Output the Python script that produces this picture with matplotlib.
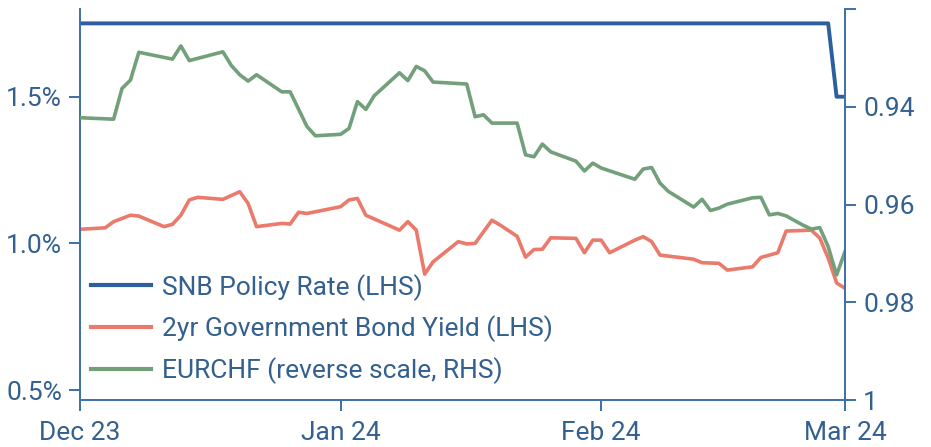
import matplotlib
matplotlib.use("Agg")
import matplotlib.pyplot as plt
import pandas as pd

# ---------------- data ----------------
snb_dates = ["2023-12-01", "2024-02-28", "2024-02-29", "2024-03-01"]
snb_vals = [1.75, 1.75, 1.50, 1.50]

yield_dates = ["2023-12-01", "2023-12-04", "2023-12-05", "2023-12-07", "2023-12-08",
               "2023-12-11", "2023-12-12", "2023-12-13", "2023-12-14", "2023-12-15",
               "2023-12-18", "2023-12-20", "2023-12-21", "2023-12-22", "2023-12-25",
               "2023-12-26", "2023-12-27", "2023-12-28", "2024-01-01", "2024-01-02",
               "2024-01-03", "2024-01-04", "2024-01-08", "2024-01-09", "2024-01-10",
               "2024-01-11", "2024-01-12", "2024-01-15", "2024-01-16", "2024-01-17",
               "2024-01-19", "2024-01-20", "2024-01-22", "2024-01-23", "2024-01-24",
               "2024-01-25", "2024-01-26", "2024-01-29", "2024-01-30", "2024-01-31",
               "2024-02-01", "2024-02-02", "2024-02-05", "2024-02-06", "2024-02-07",
               "2024-02-08", "2024-02-12", "2024-02-13", "2024-02-15", "2024-02-16",
               "2024-02-19", "2024-02-20", "2024-02-22", "2024-02-23", "2024-02-26",
               "2024-02-27", "2024-02-28", "2024-02-29", "2024-03-01"]
yield_vals = [1.048, 1.053, 1.074, 1.096, 1.093,
              1.057, 1.065, 1.096, 1.148, 1.157,
              1.150, 1.176, 1.136, 1.057, 1.068,
              1.066, 1.106, 1.102, 1.125, 1.148,
              1.153, 1.096, 1.045, 1.074, 1.045,
              0.895, 0.937, 1.006, 0.998, 1.000,
              1.079, 1.062, 1.024, 0.953, 0.979,
              0.980, 1.019, 1.017, 0.968, 1.011,
              1.011, 0.968, 1.011, 1.023, 1.006,
              0.960, 0.946, 0.934, 0.932, 0.909,
              0.920, 0.952, 0.968, 1.042, 1.045,
              1.018, 0.950, 0.865, 0.847]

eurchf_dates = ["2023-12-01", "2023-12-05", "2023-12-06", "2023-12-07", "2023-12-08",
                "2023-12-12", "2023-12-13", "2023-12-14", "2023-12-18", "2023-12-19",
                "2023-12-20", "2023-12-21", "2023-12-22", "2023-12-25", "2023-12-26",
                "2023-12-28", "2023-12-29", "2024-01-01", "2024-01-02", "2024-01-03",
                "2024-01-04", "2024-01-05", "2024-01-08", "2024-01-09", "2024-01-10",
                "2024-01-11", "2024-01-12", "2024-01-16", "2024-01-17", "2024-01-18",
                "2024-01-19", "2024-01-22", "2024-01-23", "2024-01-24", "2024-01-25",
                "2024-01-26", "2024-01-29", "2024-01-30", "2024-01-31", "2024-02-01",
                "2024-02-05", "2024-02-06", "2024-02-07", "2024-02-08", "2024-02-09",
                "2024-02-12", "2024-02-13", "2024-02-14", "2024-02-15", "2024-02-16",
                "2024-02-19", "2024-02-20", "2024-02-21", "2024-02-22", "2024-02-23",
                "2024-02-25", "2024-02-26", "2024-02-27", "2024-02-28", "2024-02-29",
                "2024-03-01"]
eurchf_vals = [0.9422, 0.9425, 0.9362, 0.9345, 0.9288,
               0.9302, 0.9275, 0.9305, 0.9287, 0.9315,
               0.9334, 0.9347, 0.9334, 0.9369, 0.9369,
               0.9440, 0.9459, 0.9456, 0.9444, 0.9389,
               0.9405, 0.9377, 0.9330, 0.9346, 0.9317,
               0.9326, 0.9349, 0.9353, 0.9420, 0.9416,
               0.9433, 0.9433, 0.9498, 0.9502, 0.9476,
               0.9492, 0.9511, 0.9531, 0.9515, 0.9525,
               0.9548, 0.9527, 0.9524, 0.9556, 0.9573,
               0.9605, 0.9589, 0.9612, 0.9607, 0.9599,
               0.9586, 0.9585, 0.9621, 0.9618, 0.9623,
               0.9642, 0.9650, 0.9647, 0.9686, 0.9744,
               0.9696]

x_ticks = ["2023-12-01", "2024-01-01", "2024-02-01", "2024-03-01"]
x_labels = ["Dec 23", "Jan 24", "Feb 24", "Mar 24"]
left_ticks = [0.5, 1.0, 1.5]
left_labels = ["0.5%", "1.0%", "1.5%"]
right_ticks = [0.92, 0.94, 0.96, 0.98, 1.00]
right_labels = ["", "0.94", "0.96", "0.98", "1"]
legend_labels = ["SNB Policy Rate (LHS)", "2yr Government Bond Yield (LHS)",
                 "EURCHF (reverse scale, RHS)"]

# ---------------- style ----------------
plt.rcParams['font.family'] = ['Roboto', 'DejaVu Sans']
TXT = "#33608f"
AX = "#3d6fa8"
BLUE = "#2c5f9e"
RED = "#ea7a6c"
GREEN = "#72a07a"
FS = 19

fig = plt.figure(figsize=(9.31, 4.47), dpi=100)
ax = fig.add_axes([80/931, 1-400/447, (845-80)/931, (400-9.3)/447])
ax2 = ax.twinx()

to_dt = pd.to_datetime
l1, = ax.plot(to_dt(snb_dates), snb_vals, color=BLUE, lw=2.8)
l2, = ax.plot(to_dt(yield_dates), yield_vals, color=RED, lw=2.6)
l3, = ax2.plot(to_dt(eurchf_dates), eurchf_vals, color=GREEN, lw=2.6)

ax.set_xlim(to_dt("2023-12-01"), to_dt("2024-03-01"))
ax.set_ylim(0.466, 1.798)
ax2.set_ylim(1.0, 0.92)

ax.set_xticks(to_dt(x_ticks))
ax.set_xticklabels(x_labels)
ax.set_yticks(left_ticks)
ax.set_yticklabels(left_labels)
ax2.set_yticks(right_ticks)
ax2.set_yticklabels(right_labels)

for a in (ax, ax2):
    for s in a.spines.values():
        s.set_color(AX)
        s.set_linewidth(1.4)
    a.spines['top'].set_visible(False)
    a.tick_params(colors=AX, labelcolor=TXT, labelsize=FS, width=1.4, length=8,
                  direction='out', pad=5)
ax.tick_params(axis='x', pad=7)
ax.spines['right'].set_visible(False)
ax2.spines['left'].set_visible(False)
ax2.spines['bottom'].set_visible(False)

leg = ax.legend([l1, l2, l3], legend_labels, loc='upper left',
                bbox_to_anchor=(0.0, 0.35), frameon=False, fontsize=FS,
                handlelength=2.3, handletextpad=0.4, labelspacing=0.56,
                borderaxespad=0.0, borderpad=0.4)
for t in leg.get_texts():
    t.set_color(TXT)
for h in leg.get_lines():
    h.set_linewidth(3)

fig.savefig("out.png", dpi=100, facecolor="white")
